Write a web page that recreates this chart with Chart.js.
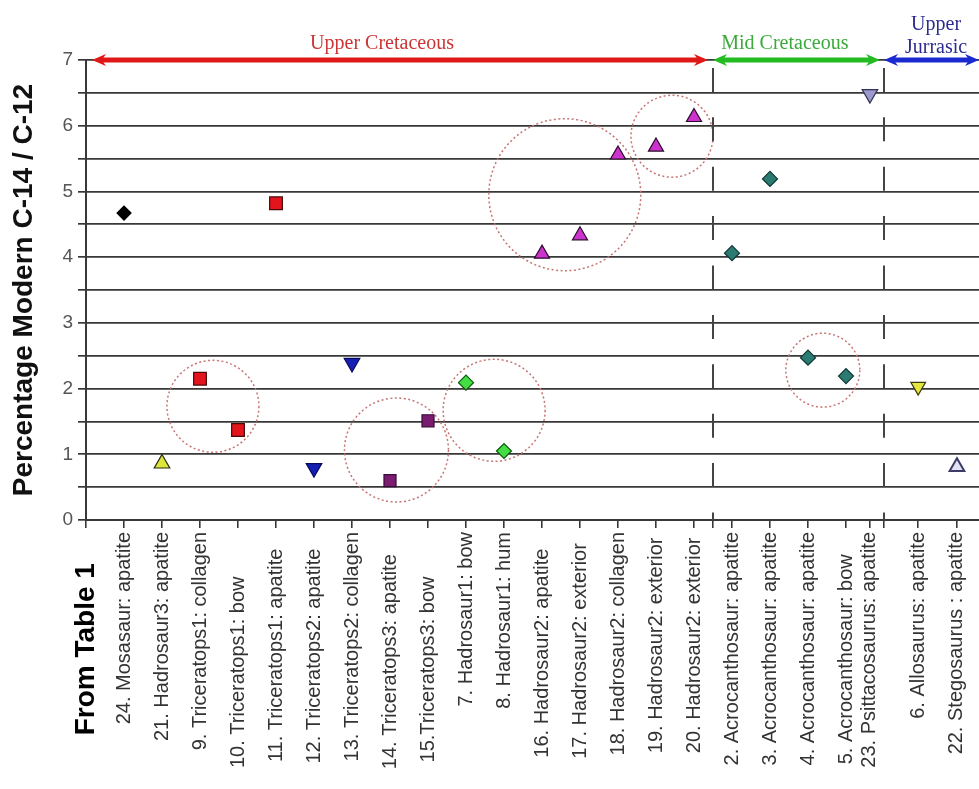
<!DOCTYPE html>
<html>
<head>
<meta charset="utf-8">
<script src="https://cdn.jsdelivr.net/npm/chart.js@4.4.0/dist/chart.umd.min.js"></script>
<style>
  html, body { margin: 0; padding: 0; background: #fff; }
</style>
</head>
<body>
<canvas id="c" width="979" height="789"></canvas>
<script>
// ---- data ----
const axisLabel = 'From Table 1';
const samples = [
  '24. Mosasaur: apatite',
  '21. Hadrosaur3: apatite',
  '9. Triceratops1: collagen',
  '10. Triceratops1: bow',
  '11. Triceratops1: apatite',
  '12. Triceratops2: apatite',
  '13. Triceratops2: collagen',
  '14. Triceratops3: apatite',
  '15.Triceratops3: bow',
  '7. Hadrosaur1: bow',
  '8. Hadrosaur1: hum',
  '16. Hadrosaur2: apatite',
  '17. Hadrosaur2: exterior',
  '18. Hadrosaur2: collagen',
  '19. Hadrosaur2: exterior',
  '20. Hadrosaur2: exterior',
  '2. Acrocanthosaur: apatite',
  '3. Acrocanthosaur: apatite',
  '4. Acrocanthosaur: apatite',
  '5. Acrocanthosaur: bow',
  '23. Psittacosaurus: apatite',
  '6. Allosaurus: apatite',
  '22. Stegosaurus : apatite'
];
const samplePos = [1, 2, 3, 4, 5, 6, 7, 8, 9, 10, 11, 12, 13, 14, 15, 16, 17, 18, 19, 20, 20.63, 21.9, 22.92];
const percentModern = [4.67, 0.86, 2.15, 1.37, 4.82, 0.79, 2.39, 0.60, 1.51, 2.09, 1.05,
  4.05, 4.33, 5.56, 5.68, 6.13, 4.06, 5.19, 2.47, 2.19, 6.48, 2.03, 0.81];
const specimen = ['Mosasaur', 'Hadrosaur3', 'Triceratops1', 'Triceratops1', 'Triceratops1',
  'Triceratops2', 'Triceratops2', 'Triceratops3', 'Triceratops3', 'Hadrosaur1', 'Hadrosaur1',
  'Hadrosaur2', 'Hadrosaur2', 'Hadrosaur2', 'Hadrosaur2', 'Hadrosaur2',
  'Acrocanthosaur', 'Acrocanthosaur', 'Acrocanthosaur', 'Acrocanthosaur',
  'Psittacosaurus', 'Allosaurus', 'Stegosaurus'];

const periodNames = [['Upper Cretaceous'], ['Mid Cretaceous'], ['Upper', 'Jurrasic']];
const periodBounds = [0, 16.5, 21, 23.5];
const dividerTop = 6.88;

// dotted circles around grouped samples (centres in data units)
const clusterX = [3.34, 8.17, 10.74, 12.6, 15.42, 19.39];
const clusterY = [1.73, 1.065, 1.67, 4.95, 5.84, 2.28];

// ---- styles ----
const sans = "'Liberation Sans', Arial, sans-serif";
const serif = "'Liberation Serif', 'Times New Roman', serif";
const gridColor = '#383838';

const markerStyle = {
  Mosasaur:       { shape: 'rectRot',  rot: 0,   r: 7,   fill: '#000000', line: '#000000' },
  Hadrosaur3:     { shape: 'triangle', rot: 0,   r: 9,   fill: '#dde43a', line: '#2a2a10' },
  Triceratops1:   { shape: 'rect',     rot: 0,   r: 9,   fill: '#e3141c', line: '#4a0a0a' },
  Triceratops2:   { shape: 'triangle', rot: 180, r: 9,   fill: '#1420b4', line: '#0a0a5a' },
  Triceratops3:   { shape: 'rect',     rot: 0,   r: 8.5, fill: '#7a1c70', line: '#3a0a38' },
  Hadrosaur1:     { shape: 'rectRot',  rot: 0,   r: 7.5, fill: '#44dd44', line: '#0e5a0e' },
  Hadrosaur2:     { shape: 'triangle', rot: 0,   r: 8.7, fill: '#cc33cc', line: '#2a0a2a' },
  Acrocanthosaur: { shape: 'rectRot',  rot: 0,   r: 7.5, fill: '#2b7b73', line: '#0e3532' },
  Psittacosaurus: { shape: 'triangle', rot: 180, r: 9,   fill: '#9c9acc', line: '#333355' },
  Allosaurus:     { shape: 'triangle', rot: 180, r: 8.5, fill: '#e6e640', line: '#3a3a10' },
  Stegosaurus:    { shape: 'triangle', rot: 0,   r: 8.5, fill: '#e2e2f4', line: '#3c3c66' }
};
const periodColors = ['#e01818', '#22bb22', '#1a2ad0'];
const periodTextColors = ['#cc3535', '#3aaa3a', '#2c2c90'];
// how far (px) each rotated label sits below the axis in the original
const labelDrop = [0, 0, 0, 43, 18, 18, 0, 20, 45, 0, 0, 15, 10, 0, 5, 8, 0, 0, 0, 25, 0, 0, 0];
const labelSize = 20;

// ---- build datasets ----
const datasets = [];
[...new Set(specimen)].forEach(name => {
  const st = markerStyle[name];
  const pts = [];
  specimen.forEach((s, i) => { if (s === name) pts.push({ x: samplePos[i], y: percentModern[i] }); });
  datasets.push({
    label: name,
    data: pts,
    pointStyle: st.shape,
    rotation: st.rot,
    pointRadius: st.r,
    backgroundColor: st.fill,
    borderColor: st.line,
    borderWidth: name === 'Stegosaurus' ? 2 : 1.2
  });
});
periodBounds.slice(1, 3).forEach(d => {
  datasets.push({
    label: 'divider',
    type: 'line',
    data: [{ x: d, y: dividerTop }, { x: d, y: 0 }],
    borderColor: '#444',
    borderWidth: 2,
    borderDash: [24, 25.4],
    pointRadius: 0,
    fill: false
  });
});
datasets.push({
  label: 'clusters',
  dotted: true,
  data: clusterX.map((x, i) => ({ x: x, y: clusterY[i] })),
  pointStyle: 'circle',
  pointRadius: [46, 52, 51, 76, 41, 37],
  backgroundColor: 'rgba(0,0,0,0)',
  borderColor: '#c87474',
  borderWidth: 1.5
});

// tick positions / labels on the x axis
const spaceW = labelSize * 0.278;
const tickText = new Map();
tickText.set(0, axisLabel + ' '.repeat(4));
samples.forEach((s, i) => tickText.set(samplePos[i], s + ' '.repeat(Math.round(labelDrop[i] / spaceW))));
const xTicks = [0, ...samplePos, periodBounds[1], periodBounds[2]].sort((a, b) => a - b);

const dottedCircles = {
  id: 'dottedCircles',
  beforeDatasetDraw(chart, args) {
    if (args.meta.controller.getDataset().dotted) {
      chart.ctx.save();
      chart.ctx.setLineDash([2, 2.5]);
    }
  },
  afterDatasetDraw(chart, args) {
    if (args.meta.controller.getDataset().dotted) chart.ctx.restore();
  }
};

function drawArrow(ctx, x1, x2, y, color) {
  const len = 14, half = 6;
  ctx.save();
  ctx.strokeStyle = color;
  ctx.fillStyle = color;
  ctx.lineWidth = 5;
  ctx.beginPath();
  ctx.moveTo(x1 + 8, y);
  ctx.lineTo(x2 - 8, y);
  ctx.stroke();
  [[x1, 1], [x2, -1]].forEach(([tip, dir]) => {
    ctx.beginPath();
    ctx.moveTo(tip, y);
    ctx.lineTo(tip + dir * len, y - half);
    ctx.lineTo(tip + dir * len * 0.7, y);
    ctx.lineTo(tip + dir * len, y + half);
    ctx.closePath();
    ctx.fill();
  });
  ctx.restore();
}

const periodArrows = {
  id: 'periodArrows',
  afterDraw(chart) {
    const ctx = chart.ctx;
    const xs = chart.scales.x, ys = chart.scales.y;
    const y = ys.getPixelForValue(7);
    const insets = [[6, 5], [0, 4], [0, 0]];
    periodNames.forEach((lines, i) => {
      const x1 = xs.getPixelForValue(periodBounds[i]) + insets[i][0];
      const x2 = xs.getPixelForValue(periodBounds[i + 1]) - insets[i][1];
      drawArrow(ctx, x1, x2, y, periodColors[i]);
    });
    // period captions
    const captionX = [7.79, 18.39, 22.37];
    const baselines = [[49], [49], [30, 53]];
    ctx.save();
    ctx.font = '20px ' + serif;
    ctx.textAlign = 'center';
    ctx.textBaseline = 'alphabetic';
    periodNames.forEach((lines, i) => {
      ctx.fillStyle = periodTextColors[i];
      lines.forEach((t, j) => ctx.fillText(t, xs.getPixelForValue(captionX[i]), baselines[i][j]));
    });
    ctx.restore();
  }
};

new Chart(document.getElementById('c'), {
  type: 'scatter',
  data: { datasets: datasets },
  plugins: [dottedCircles, periodArrows],
  options: {
    responsive: false,
    animation: false,
    layout: { autoPadding: false, padding: { top: 60, left: 0, right: 0, bottom: 0 } },
    plugins: { legend: { display: false }, tooltip: { enabled: false } },
    scales: {
      x: {
        type: 'linear',
        min: 0,
        max: 23.5,
        afterFit: s => {
          s.height = 269;
          s.paddingLeft = 0;
          s.paddingRight = 0;
        },
        afterBuildTicks: s => { s.ticks = xTicks.map(v => ({ value: v })); },
        ticks: {
          autoSkip: false,
          minRotation: 90,
          maxRotation: 90,
          padding: 4,
          callback: v => tickText.get(v) || '',
          color: c => (c.tick && c.tick.value === 0 ? '#000' : '#333'),
          font: c => (c.tick && c.tick.value === 0
            ? { family: sans, size: 28, weight: 'bold' }
            : { family: sans, size: labelSize })
        },
        grid: { drawOnChartArea: false, color: gridColor, lineWidth: 1.6, tickLength: 8 },
        border: { color: gridColor, width: 2 }
      },
      y: {
        min: 0,
        max: 7,
        afterFit: s => {
          s.width = 86;
          s.paddingTop = 0;
          s.paddingBottom = 0;
        },
        ticks: {
          stepSize: 0.5,
          autoSkip: false,
          padding: 5,
          color: '#555',
          font: { family: sans, size: 19 },
          callback: v => (Number.isInteger(v) ? v : '')
        },
        grid: { color: gridColor, lineWidth: 1.7, tickLength: 8 },
        border: { color: gridColor, width: 2 },
        title: {
          display: true,
          text: 'Percentage Modern C-14 / C-12',
          color: '#111',
          font: { family: sans, size: 28, weight: 'bold' },
          padding: { top: 7, bottom: 0 }
        }
      }
    }
  }
});
</script>
</body>
</html>
